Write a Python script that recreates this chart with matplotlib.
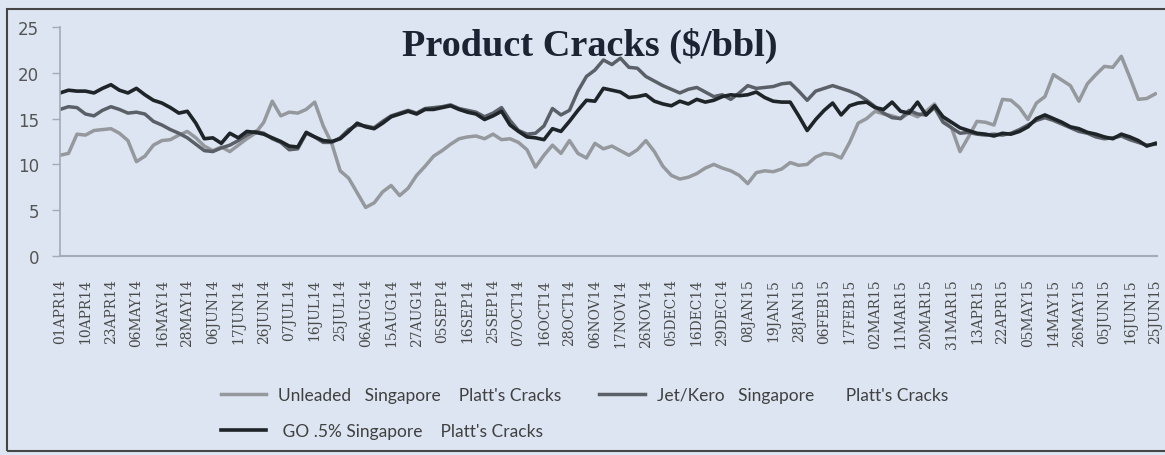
import numpy as np
import matplotlib
matplotlib.use("Agg")
import matplotlib.pyplot as plt
from matplotlib.patches import Rectangle

# tick labels (one every 3 points)
dates = ["01APR14", "10APR14", "23APR14", "06MAY14", "16MAY14", "28MAY14",
         "06JUN14", "17JUN14", "26JUN14", "07JUL14", "16JUL14", "25JUL14",
         "06AUG14", "15AUG14", "27AUG14", "05SEP14", "16SEP14", "25SEP14",
         "07OCT14", "16OCT14", "28OCT14", "06NOV14", "17NOV14", "26NOV14",
         "05DEC14", "16DEC14", "29DEC14", "08JAN15", "19JAN15", "28JAN15",
         "06FEB15", "17FEB15", "02MAR15", "11MAR15", "20MAR15", "31MAR15",
         "13APR15", "22APR15", "05MAY15", "14MAY15", "26MAY15", "05JUN15",
         "16JUN15", "25JUN15"]

# cracks, $/bbl
unleaded = [11.0, 11.2, 13.3, 13.2, 13.7, 13.8, 13.9, 13.4, 12.6, 10.3,
            10.9, 12.1, 12.6, 12.7, 13.2, 13.6, 12.9, 12.0, 11.5, 11.9,
            11.4, 12.1, 12.8, 13.4, 14.6, 16.9, 15.3, 15.7, 15.6, 16.0,
            16.8, 14.2, 12.3, 9.3, 8.5, 6.9, 5.3, 5.8, 7.0, 7.7,
            6.6, 7.4, 8.8, 9.8, 10.9, 11.5, 12.2, 12.8, 13.0, 13.1,
            12.8, 13.3, 12.7, 12.8, 12.4, 11.6, 9.7, 11.0, 12.1, 11.2,
            12.6, 11.2, 10.7, 12.3, 11.7, 12.0, 11.5, 11.0, 11.6, 12.6,
            11.4, 9.8, 8.8, 8.4, 8.6, 9.0, 9.6, 10.0, 9.6, 9.3,
            8.8, 7.9, 9.1, 9.3, 9.2, 9.5, 10.2, 9.9, 10.0, 10.8,
            11.2, 11.1, 10.7, 12.4, 14.5, 15.0, 15.8, 15.5, 15.3, 15.0,
            15.6, 15.2, 15.8, 16.6, 14.9, 14.0, 11.4, 13.0, 14.7, 14.6,
            14.3, 17.1, 17.0, 16.2, 14.9, 16.7, 17.4, 19.8, 19.2, 18.6,
            16.9, 18.8, 19.8, 20.7, 20.6, 21.8, 19.5, 17.1, 17.2, 17.7]

jet_kero = [16.0, 16.3, 16.2, 15.5, 15.3, 15.9, 16.3, 16.0, 15.6, 15.7,
            15.5, 14.7, 14.3, 13.8, 13.4, 12.9, 12.2, 11.5, 11.4, 11.8,
            12.1, 12.6, 13.2, 13.6, 13.4, 12.8, 12.4, 11.6, 11.7, 13.4,
            13.0, 12.4, 12.4, 12.9, 13.8, 14.3, 14.2, 14.0, 14.7, 15.3,
            15.6, 15.9, 15.6, 16.1, 16.2, 16.3, 16.5, 16.1, 15.9, 15.7,
            15.2, 15.6, 16.2, 14.8, 13.7, 13.3, 13.4, 14.2, 16.1, 15.4,
            15.9, 18.0, 19.6, 20.3, 21.4, 20.9, 21.6, 20.6, 20.5, 19.6,
            19.1, 18.6, 18.2, 17.8, 18.2, 18.4, 17.9, 17.4, 17.6, 17.1,
            17.8, 18.6, 18.3, 18.4, 18.5, 18.8, 18.9, 18.0, 17.0, 18.0,
            18.3, 18.6, 18.3, 18.0, 17.6, 17.0, 16.3, 15.6, 15.1, 15.0,
            15.9, 15.5, 15.4, 16.2, 14.6, 14.0, 13.4, 13.5, 13.3, 13.2,
            13.3, 13.2, 13.4, 13.8, 14.3, 14.8, 15.1, 14.8, 14.4, 14.0,
            13.6, 13.4, 13.0, 12.8, 12.9, 13.1, 12.7, 12.4, 12.1, 12.2]

go_05 = [17.8, 18.1, 18.0, 18.0, 17.8, 18.3, 18.7, 18.1, 17.8, 18.3,
         17.6, 17.0, 16.7, 16.2, 15.6, 15.8, 14.5, 12.8, 12.9, 12.3,
         13.4, 12.9, 13.6, 13.5, 13.3, 12.9, 12.5, 12.0, 11.9, 13.5,
         13.0, 12.6, 12.5, 12.8, 13.6, 14.5, 14.1, 13.9, 14.5, 15.2,
         15.5, 15.8, 15.5, 16.0, 16.0, 16.2, 16.4, 16.0, 15.7, 15.5,
         14.9, 15.3, 15.8, 14.3, 13.6, 13.0, 12.9, 12.7, 13.9, 13.6,
         14.7, 15.9, 17.0, 16.9, 18.3, 18.1, 17.9, 17.3, 17.4, 17.6,
         16.9, 16.6, 16.4, 16.9, 16.6, 17.1, 16.8, 17.0, 17.4, 17.6,
         17.5, 17.6, 17.9, 17.3, 16.9, 16.8, 16.8, 15.3, 13.7, 14.9,
         15.9, 16.7, 15.4, 16.4, 16.7, 16.8, 16.2, 16.0, 16.8, 15.8,
         15.6, 16.8, 15.4, 16.4, 15.2, 14.6, 14.0, 13.7, 13.4, 13.3,
         13.1, 13.4, 13.3, 13.6, 14.1, 15.0, 15.4, 15.0, 14.6, 14.1,
         13.9, 13.5, 13.3, 13.0, 12.8, 13.3, 13.0, 12.6, 12.0, 12.3]

bg = "#dce5f1"
x = np.arange(len(go_05))

fig = plt.figure(figsize=(11.65, 4.56), dpi=100, facecolor=bg)
ax = fig.add_axes([60 / 1165, 1 - 257 / 456, 1097 / 1165, 229 / 456])
ax.set_facecolor(bg)

l1, = ax.plot(x, unleaded, color="#95989d", lw=2.5)
l2, = ax.plot(x, jet_kero, color="#5b6068", lw=2.5)
l3, = ax.plot(x, go_05, color="#1f2428", lw=2.6)

ax.set_xlim(0, len(x) - 0.8)
ax.set_ylim(0, 25)
ax.set_yticks(range(0, 26, 5))
ax.set_xticks(x[::3])
ax.set_xticklabels(dates, rotation=90, family="DejaVu Serif", fontsize=10,
                   color="#4a4a4a")
ax.tick_params(axis="x", length=0, pad=16)
ax.tick_params(axis="y", length=6, width=1, color="#a3abb8", pad=9,
               labelsize=12, labelcolor="#555555")
for s in ["top", "right"]:
    ax.spines[s].set_visible(False)
ax.spines["left"].set_color("#a3abb8")
ax.spines["bottom"].set_color("#a3abb8")
ax.spines["left"].set_linewidth(1.2)
ax.spines["bottom"].set_linewidth(1.5)

fig.text(590 / 1165, 1 - 46 / 456, "Product Cracks ($/bbl)", ha="center",
         va="center", family="Liberation Serif", fontweight="bold",
         fontsize=27.5, color="#1c2333")

leg = fig.legend([l1, l3, l2],
                 ["Unleaded   Singapore    Platt's Cracks",
                  " GO .5% Singapore    Platt's Cracks",
                  "Jet/Kero   Singapore       Platt's Cracks"],
                 loc="upper left", bbox_to_anchor=(205 / 1165, 1 - 372 / 456),
                 ncol=2, frameon=False, handlelength=2.6, handletextpad=0.7,
                 columnspacing=2.2, labelspacing=1.2,
                 prop={"family": "Lato", "size": 12.5})
for t in leg.get_texts():
    t.set_color("#404040")

fig.patches.append(Rectangle((7 / 1165, 1 - 452 / 456), 1.01, 442 / 456,
                             transform=fig.transFigure, fill=False,
                             edgecolor="#454545", lw=1.5))

fig.savefig("out.png", dpi=100, facecolor=bg)
